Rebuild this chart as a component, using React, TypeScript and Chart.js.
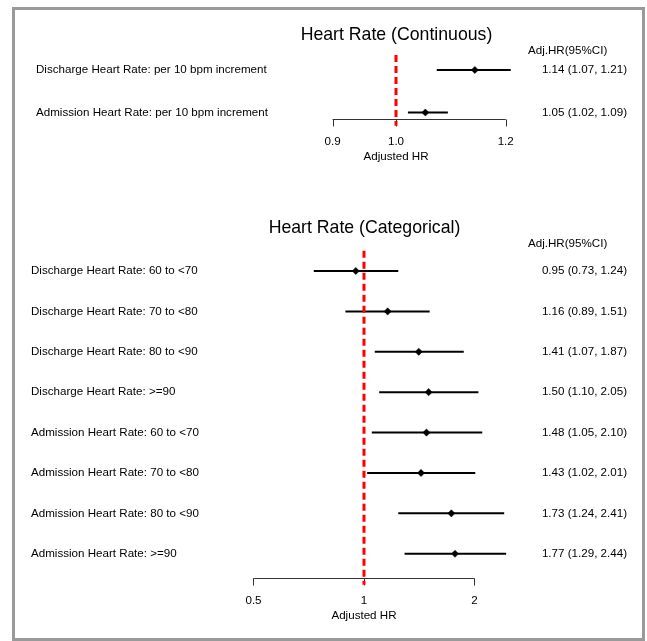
import React, { useEffect, useRef } from "react";
import { Chart, registerables } from "chart.js";

Chart.register(...registerables);

// ---------- Data ----------
const contTitle = "Heart Rate (Continuous)";
const contLabels = [
  "Discharge Heart Rate: per 10 bpm increment",
  "Admission Heart Rate: per 10 bpm increment",
];
const contHR = [1.14, 1.05];
const contLo = [1.07, 1.02];
const contHi = [1.21, 1.09];
const contTicks = [0.9, 1.0, 1.2];
const contTickLabels = ["0.9", "1.0", "1.2"];

const catTitle = "Heart Rate (Categorical)";
const catLabels = [
  "Discharge Heart Rate: 60 to <70",
  "Discharge Heart Rate: 70 to <80",
  "Discharge Heart Rate: 80 to <90",
  "Discharge Heart Rate: >=90",
  "Admission Heart Rate: 60 to <70",
  "Admission Heart Rate: 70 to <80",
  "Admission Heart Rate: 80 to <90",
  "Admission Heart Rate: >=90",
];
const catHR = [0.95, 1.16, 1.41, 1.5, 1.48, 1.43, 1.73, 1.77];
const catLo = [0.73, 0.89, 1.07, 1.1, 1.05, 1.02, 1.24, 1.29];
const catHi = [1.24, 1.51, 1.87, 2.05, 2.1, 2.01, 2.41, 2.44];
const catTicks = [0.5, 1, 2];
const catTickLabels = ["0.5", "1", "2"];

const refValue = 1;
const xTitle = "Adjusted HR";
const colHeader = "Adj.HR(95%CI)";

// ---------- Styling / layout ----------
const W = 647;
const H = 641;
const FONT = "'Liberation Sans', Arial, Helvetica, sans-serif";
const SMALL = `11.6px ${FONT}`;
const BIG = `17.7px ${FONT}`;

type ForestOpts = {
  title: string;
  labels: string[];
  hr: number[];
  lo: number[];
  hi: number[];
  ticks: number[];
  tickLabels: string[];
  xMin: number;
  xMax: number;
  yMin: number;
  yMax: number;
  refExtend: number; // y-units the reference line extends below the axis
  padding: { left: number; right: number; top: number; bottom: number };
  labelX: number;
  valueRightX: number;
  headerX: number;
  headerY: number;
  titleX: number;
  titleY: number;
};

function fmt(v: number) {
  return v.toFixed(2);
}

function forestConfig(o: ForestOpts): any {
  const datasets: any[] = [];
  // reference line (drawn last -> on top)
  datasets.push({
    data: [
      { x: refValue, y: o.yMin },
      { x: refValue, y: o.yMax + o.refExtend },
    ],
    showLine: true,
    borderColor: "#ff0000",
    borderWidth: 3,
    borderDash: [7, 4],
    pointRadius: 0,
    clip: false,
  });
  // point estimates
  datasets.push({
    data: o.hr.map((v, i) => ({ x: v, y: i })),
    showLine: false,
    pointStyle: "rectRot",
    pointRadius: 3.6,
    backgroundColor: "#000",
    borderColor: "#000",
    borderWidth: 0.5,
  });
  // confidence intervals
  o.labels.forEach((_, i) => {
    datasets.push({
      data: [
        { x: o.lo[i], y: i },
        { x: o.hi[i], y: i },
      ],
      showLine: true,
      borderColor: "#000",
      borderWidth: 2,
      pointRadius: 0,
    });
  });

  const textPlugin = {
    id: "forestText",
    beforeDatasetsDraw(chart: any) {
      const ctx = chart.ctx;
      const xs = chart.scales.x;
      const y0 = Math.round(chart.chartArea.bottom) + 0.5;
      const x1 = xs.getPixelForValue(o.ticks[0]);
      const x2 = xs.getPixelForValue(o.ticks[o.ticks.length - 1]);
      ctx.save();
      ctx.strokeStyle = "#333";
      ctx.lineWidth = 1;
      ctx.beginPath();
      ctx.moveTo(x1, y0);
      ctx.lineTo(x2, y0);
      o.ticks.forEach((t) => {
        const px = Math.round(xs.getPixelForValue(t)) + 0.5;
        ctx.moveTo(px, y0);
        ctx.lineTo(px, y0 + 7);
      });
      ctx.stroke();
      ctx.fillStyle = "#000";
      ctx.font = SMALL;
      ctx.textAlign = "center";
      ctx.textBaseline = "middle";
      o.ticks.forEach((t, i) => {
        ctx.fillText(o.tickLabels[i], xs.getPixelForValue(t), y0 + 22);
      });
      ctx.fillText(xTitle, xs.getPixelForValue(refValue), y0 + 37);
      ctx.restore();
    },
    afterDatasetsDraw(chart: any) {
      const ctx = chart.ctx;
      const ys = chart.scales.y;
      ctx.save();
      ctx.fillStyle = "#000";
      ctx.textBaseline = "middle";
      ctx.font = BIG;
      ctx.textAlign = "center";
      ctx.fillText(o.title, o.titleX, o.titleY);
      ctx.font = SMALL;
      ctx.textAlign = "left";
      ctx.fillText(colHeader, o.headerX, o.headerY);
      o.labels.forEach((lab, i) => {
        const py = ys.getPixelForValue(i);
        ctx.textAlign = "left";
        ctx.fillText(lab, o.labelX, py);
        ctx.textAlign = "right";
        ctx.fillText(
          `${fmt(o.hr[i])} (${fmt(o.lo[i])}, ${fmt(o.hi[i])})`,
          o.valueRightX,
          py
        );
      });
      ctx.restore();
    },
  };

  return {
    type: "scatter",
    data: { datasets },
    options: {
      responsive: false,
      animation: false,
      devicePixelRatio: 1,
      layout: { padding: o.padding },
      plugins: {
        legend: { display: false },
        tooltip: { enabled: false },
        title: { display: false },
      },
      events: [],
      scales: {
        x: { type: "logarithmic", min: o.xMin, max: o.xMax, display: false },
        y: { type: "linear", min: o.yMin, max: o.yMax, reverse: true, display: false },
      },
    },
    plugins: [textPlugin],
  };
}

const contOpts: ForestOpts = {
  title: contTitle,
  labels: contLabels,
  hr: contHR,
  lo: contLo,
  hi: contHi,
  ticks: contTicks,
  tickLabels: contTickLabels,
  xMin: 0.85,
  xMax: 1.3,
  yMin: -0.35,
  yMax: 1.15,
  refExtend: 0.16,
  padding: { left: 298.2, right: 93.1, top: 55.1, bottom: 522.1 },
  labelX: 36,
  valueRightX: 627,
  headerX: 528,
  headerY: 51,
  titleX: 396.5,
  titleY: 35,
};

const catOpts: ForestOpts = {
  title: catTitle,
  labels: catLabels,
  hr: catHR,
  lo: catLo,
  hi: catHi,
  ticks: catTicks,
  tickLabels: catTickLabels,
  xMin: 0.45,
  xMax: 3,
  yMin: -0.5,
  yMax: 7.6,
  refExtend: 0.17,
  padding: { left: 236.7, right: 107.9, top: 250.8, bottom: 63 },
  labelX: 31,
  valueRightX: 627,
  headerX: 528,
  headerY: 244,
  titleX: 364.5,
  titleY: 228,
};

function ForestCanvas({ opts }: { opts: ForestOpts }) {
  const ref = useRef<HTMLCanvasElement | null>(null);
  useEffect(() => {
    if (!ref.current) return;
    const chart = new Chart(ref.current, forestConfig(opts));
    return () => chart.destroy();
  }, [opts]);
  return (
    <canvas
      ref={ref}
      width={W}
      height={H}
      style={{ position: "absolute", left: 0, top: 0, width: W, height: H }}
    />
  );
}

export default function App() {
  return (
    <div
      style={{
        position: "absolute",
        left: 0,
        top: 0,
        width: W,
        height: H,
        background: "#fff",
        overflow: "hidden",
      }}
    >
      <div
        style={{
          position: "absolute",
          left: 12,
          top: 7,
          width: 633,
          height: 634,
          border: "3px solid #9a9a9a",
          boxSizing: "border-box",
        }}
      />
      <ForestCanvas opts={contOpts} />
      <ForestCanvas opts={catOpts} />
    </div>
  );
}
